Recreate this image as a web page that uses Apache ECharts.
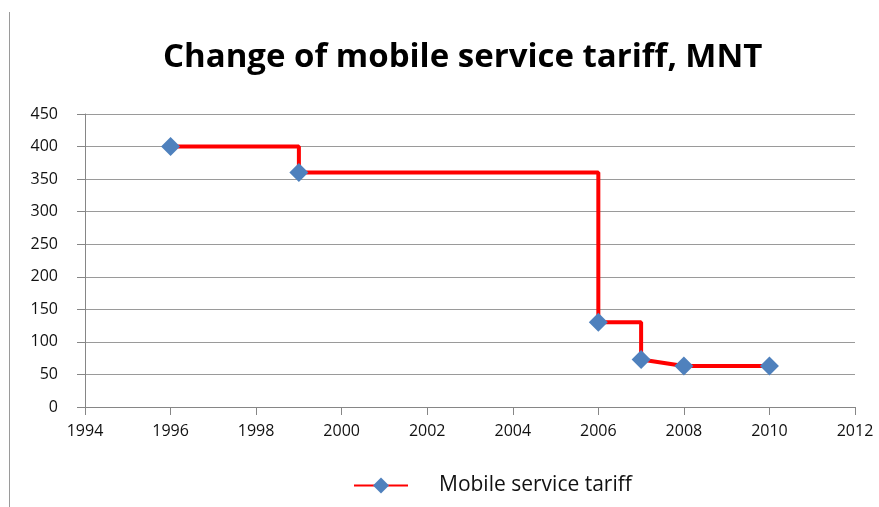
<!DOCTYPE html>
<html>
<head>
<meta charset="utf-8">
<script src="https://cdn.jsdelivr.net/npm/echarts@6/dist/echarts.min.js"></script>
<style>
  html, body { margin: 0; padding: 0; background: #fff; }
  #chart { width: 879px; height: 507px; }
</style>
</head>
<body>
<div id="chart"></div>
<script>
// tariff observations (markers)
const years = [1996, 1999, 2006, 2007, 2008, 2010]
const tariff = [400, 360, 130, 73, 63, 63]

// the drawn path, step-like between observations
const pathYears = [1996, 1999, 1999, 2006, 2006, 2007, 2007, 2008, 2010]
const pathValues = [400, 400, 360, 360, 130, 130, 73, 63, 63]

const seriesName = 'Mobile service tariff'
const titleText = 'Change of mobile service tariff, MNT'

const font = 'Open Sans'

function isMarker(x, y, i) {
  return years.some((yr, k) => yr === x && tariff[k] === y) &&
    !(i > 0 && pathYears[i - 1] === x && pathValues[i - 1] === y)
}

const pathData = pathYears.map((x, i) => {
  const y = pathValues[i]
  return isMarker(x, y, i) ? [x, y] : { value: [x, y], symbol: 'none' }
})

const chart = echarts.init(document.getElementById('chart'))
chart.setOption({
  backgroundColor: '#fff',
  animation: false,
  title: {
    text: titleText,
    left: 158,
    top: 36,
    textStyle: { fontFamily: font, fontSize: 33, fontWeight: 'bold', color: '#000' },
  },
  grid: { left: 85, right: 24, top: 114, bottom: 100 },
  xAxis: {
    type: 'value',
    min: 1994,
    max: 2012,
    interval: 2,
    axisLine: { lineStyle: { color: '#868686', width: 1 } },
    axisTick: { show: true, length: 8, lineStyle: { color: '#868686' } },
    splitLine: { show: false },
    axisLabel: { color: '#111', fontFamily: font, fontSize: 16, margin: 16, formatter: (v) => String(v) },
  },
  yAxis: {
    type: 'value',
    min: 0,
    max: 450,
    interval: 50,
    axisLine: { show: true, lineStyle: { color: '#868686', width: 1 } },
    axisTick: { show: true, length: 8, lineStyle: { color: '#868686' } },
    splitLine: { lineStyle: { color: '#9a9a9a', width: 1 } },
    axisLabel: { color: '#111', fontFamily: font, fontSize: 16, margin: 27 },
  },
  legend: {
    data: [seriesName],
    left: 348,
    top: 470,
    itemWidth: 54,
    itemHeight: 20,
    itemGap: 10,
    textStyle: { fontFamily: font, fontSize: 21, color: '#111', padding: [0, 0, 0, 26] },
  },
  graphic: [
    {
      type: 'line',
      shape: { x1: 9.5, y1: 12, x2: 9.5, y2: 507 },
      style: { stroke: '#9a9a9a', lineWidth: 1 },
    },
  ],
  series: [
    {
      name: seriesName,
      type: 'line',
      data: pathData,
      symbol: 'diamond',
      symbolSize: 19,
      showAllSymbol: true,
      lineStyle: { color: '#ff0000', width: 4 },
      itemStyle: { color: '#4f81bd' },
      z: 3,
    },
  ],
})
</script>
</body>
</html>
